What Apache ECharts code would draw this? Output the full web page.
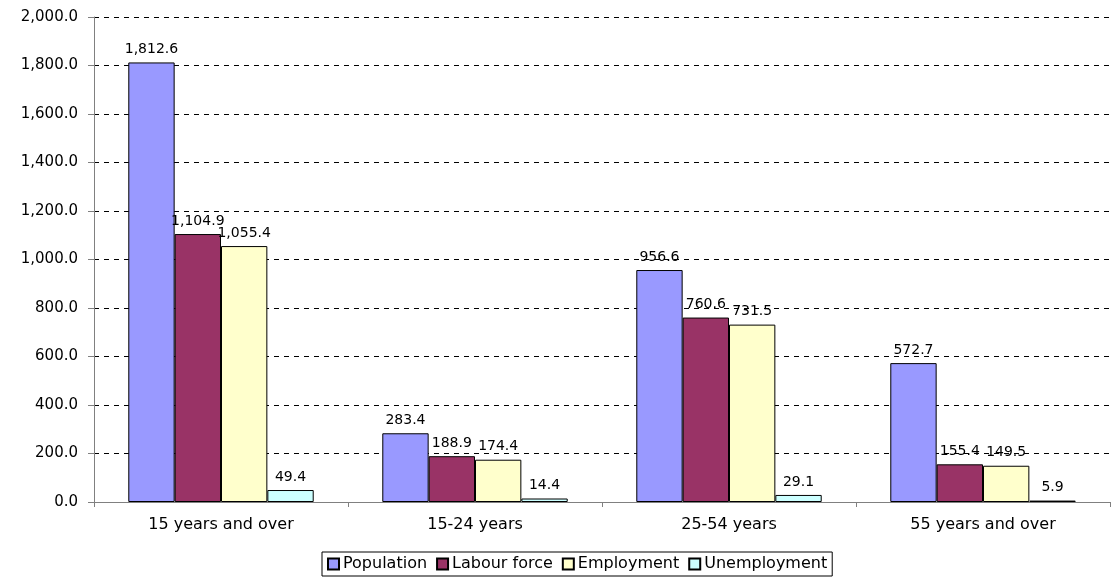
<!DOCTYPE html>
<html>
<head>
<meta charset="utf-8">
<script src="https://cdn.jsdelivr.net/npm/echarts@6/dist/echarts.min.js"></script>
<style>
  html, body { margin: 0; padding: 0; background: #fff; }
  #chart { width: 1111px; height: 579px; }
</style>
</head>
<body>
<div id="chart"></div>
<script>
const categories = ["15 years and over", "15-24 years", "25-54 years", "55 years and over"];
const population = [1812.6, 283.4, 956.6, 572.7];
const labourForce = [1104.9, 188.9, 760.6, 155.4];
const employment = [1055.4, 174.4, 731.5, 149.5];
const unemployment = [49.4, 14.4, 29.1, 5.9];

const fmt = v => v.toLocaleString("en-US", { minimumFractionDigits: 1, maximumFractionDigits: 1 });
const font = "DejaVu Sans";

function bar(name, data, color) {
  return {
    name: name,
    type: "bar",
    data: data,
    barGap: "0%",
    barCategoryGap: "27%",
    itemStyle: { color: color, borderColor: "#000", borderWidth: 1 },
    label: {
      show: true,
      position: "top",
      distance: 6,
      color: "#000",
      fontFamily: font,
      fontSize: 14,
      formatter: p => fmt(p.value)
    }
  };
}

const chart = echarts.init(document.getElementById("chart"));
chart.setOption({
  animation: false,
  grid: { left: 94, right: 1, top: 17, bottom: 77 },
  legend: {
    left: 322,
    top: 552,
    itemWidth: 11,
    itemHeight: 11,
    itemGap: 9,
    padding: [4, 5, 4, 5],
    borderColor: "#000",
    borderWidth: 1,
    icon: "rect",
    textStyle: { fontFamily: font, fontSize: 16, color: "#000", padding: [0, 0, 0, -1] }
  },
  xAxis: {
    type: "category",
    data: categories,
    axisLine: { lineStyle: { color: "#808080" } },
    axisTick: { show: true, length: 5, lineStyle: { color: "#808080" } },
    axisLabel: { color: "#000", fontFamily: font, fontSize: 16, margin: 15 }
  },
  yAxis: {
    type: "value",
    min: 0,
    max: 2000,
    interval: 200,
    axisLine: { show: true, lineStyle: { color: "#808080" } },
    axisTick: { show: true, length: 6, lineStyle: { color: "#808080" } },
    axisLabel: { color: "#000", fontFamily: font, fontSize: 15, margin: 16, formatter: v => fmt(v) },
    splitLine: { lineStyle: { color: "#000", type: [5, 5], width: 1 } }
  },
  series: [
    bar("Population", population, "#9999FF"),
    bar("Labour force", labourForce, "#993366"),
    bar("Employment", employment, "#FFFFCC"),
    bar("Unemployment", unemployment, "#CCFFFF")
  ]
});
</script>
</body>
</html>
